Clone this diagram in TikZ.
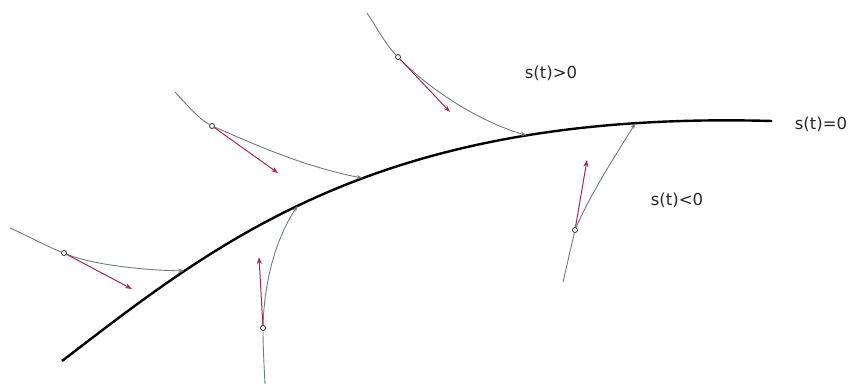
\documentclass[tikz,border=0pt]{standalone}
\usepackage{fontspec}
\setmainfont{DejaVu Sans}
\usetikzlibrary{arrows.meta}
\definecolor{ink}{RGB}{40,40,40}
\definecolor{trajgray}{RGB}{112,124,122}
\definecolor{reach}{RGB}{158,42,92}
\tikzset{
  surface/.style={black, line width=2.4pt},
  traj/.style={trajgray, line width=0.9pt},
  reachvec/.style={reach, line width=1pt, -{Stealth[length=7pt,width=5pt]}},
  statedot/.style={circle, draw=ink, fill=white, line width=0.8pt, inner sep=0pt, minimum size=5pt},
  lbl/.style={font=\fontsize{16.5}{20}\selectfont, text=ink, inner sep=0pt}
}
\begin{document}
\begin{tikzpicture}[x=1pt,y=-1pt]
    \useasboundingbox (0,0) rectangle (851,387);
    % sliding surface s(t)=0
    \coordinate (s0) at (62,361);
    \coordinate (s1) at (772,121);
    \draw[surface] (s0) .. controls (220,240) and (380,110) .. (s1)
      coordinate[pos=0.25] (e1) coordinate[pos=0.45] (e4)
      coordinate[pos=0.55] (e2) coordinate[pos=0.76] (e3)
      coordinate[pos=0.875] (e5);
    % trajectories: start / controls / state / controls / reaching vector
    \foreach \n/\st/\ca/\cb/\dt/\cc/\cd/\rv in {
      1/{10,228}/{28,236}/{46,246}/{64,253}/{85,262}/{130,270}/{132,289},
      2/{175,92}/{188,106}/{198,118}/{212,126}/{245,140}/{300,166}/{278,173},
      3/{367,13}/{377,28}/{386,45}/{398,57}/{430,90}/{480,122}/{450,112},
      4/{265,384}/{264,365}/{263,345}/{263,328}/{264,290}/{272,245}/{259,257},
      5/{563,282}/{567,265}/{571,247}/{575,230}/{590,195}/{615,156}/{587,160}}{
      \coordinate (a\n) at (\st);
      \coordinate (r\n) at (\rv);
      \node[statedot] (d\n) at (\dt) {};
      \draw[traj] (a\n) .. controls (\ca) and (\cb) .. (d\n);
      \draw[traj,-{Stealth[length=6pt,width=4pt]}] (d\n) .. controls (\cc) and (\cd) .. (e\n);
      \draw[reachvec] (d\n) -- (r\n);}
    \node[lbl] (pos) at (551,73) {s(t)>0};
    \node[lbl] (zero) at (821,124) {s(t)=0};
    \node[lbl] (neg) at (677,200) {s(t)<0};
  \end{tikzpicture}
\end{document}
